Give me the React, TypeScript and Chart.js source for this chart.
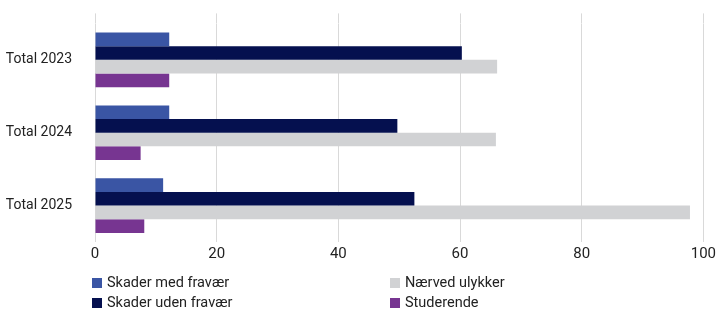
import React, { useEffect, useRef } from "react";
import { Chart, registerables } from "chart.js";

Chart.register(...registerables);

const categories = ["Total 2023", "Total 2024", "Total 2025"];
const seriesNames = ["Skader med fravær", "Skader uden fravær", "Nærved ulykker", "Studerende"];
const skaderMedFravaer = [12.2, 12.2, 11.2];
const skaderUdenFravaer = [60.3, 49.7, 52.5];
const naervedUlykker = [66.1, 65.9, 97.8];
const studerende = [12.2, 7.5, 8.1];
const xMin = 0;
const xMax = 100;
const xStep = 20;

const colors = ["#3a55a4", "#05104f", "#d1d2d4", "#773591"];
const FONT = "Roboto";
const TEXT = "#222222";
const GRID = "#d9d9d9";

// legend layout: column-major order like the reference
const legendSlots = [
  { idx: 0, left: 92, top: 278 },
  { idx: 1, left: 92, top: 298 },
  { idx: 2, left: 390, top: 278 },
  { idx: 3, left: 390, top: 298 },
];

export default function App() {
  const ref = useRef<HTMLCanvasElement | null>(null);

  useEffect(() => {
    if (!ref.current) return;
    const series = [skaderMedFravaer, skaderUdenFravaer, naervedUlykker, studerende];
    const chart = new Chart(ref.current, {
      type: "bar",
      data: {
        labels: categories,
        datasets: series.map((d, i) => ({
          label: seriesNames[i],
          data: d,
          backgroundColor: colors[i],
          borderWidth: 0,
          categoryPercentage: 0.75,
          barPercentage: 1.0,
          xAxisID: "x",
        })),
      },
      options: {
        indexAxis: "y",
        responsive: false,
        maintainAspectRatio: false,
        animation: false,
        layout: { padding: { top: 12, right: 14, bottom: 47, left: 0 } },
        plugins: { legend: { display: false }, tooltip: { enabled: false } },
        scales: {
          x: {
            type: "linear",
            position: "bottom",
            min: xMin,
            max: xMax,
            ticks: {
              stepSize: xStep,
              color: TEXT,
              font: { family: FONT, size: 15 },
              padding: 3,
            },
            grid: { color: GRID, drawTicks: false, lineWidth: 1 },
            border: { display: false },
            afterFit: (s: any) => {
              s.height = 20;
            },
          },
          x2: {
            type: "linear",
            position: "top",
            min: xMin,
            max: xMax,
            ticks: { stepSize: xStep, display: false },
            grid: { color: GRID, drawOnChartArea: false, drawTicks: true, tickLength: 10 },
            border: { display: false },
            afterFit: (s: any) => {
              s.height = 10;
            },
          },
          y: {
            type: "category",
            grid: { display: false },
            border: { display: false },
            ticks: {
              color: TEXT,
              font: { family: FONT, size: 14 },
              padding: 15,
            },
            afterFit: (s: any) => {
              s.width = 95;
            },
          },
        },
      },
    });
    return () => chart.destroy();
  }, []);

  return (
    <div style={{ position: "absolute", left: 0, top: 0, width: 719, height: 309 }}>
      <canvas ref={ref} width={719} height={309} style={{ display: "block" }} />
      {legendSlots.map((s) => (
        <React.Fragment key={s.idx}>
          <div
            style={{
              position: "absolute",
              left: s.left,
              top: s.top,
              width: 10,
              height: 10,
              background: colors[s.idx],
            }}
          />
          <div
            style={{
              position: "absolute",
              left: s.left + 15,
              top: s.top - 4,
              fontFamily: FONT,
              fontSize: 14.5,
              lineHeight: "18px",
              color: TEXT,
              whiteSpace: "nowrap",
            }}
          >
            {seriesNames[s.idx]}
          </div>
        </React.Fragment>
      ))}
    </div>
  );
}
